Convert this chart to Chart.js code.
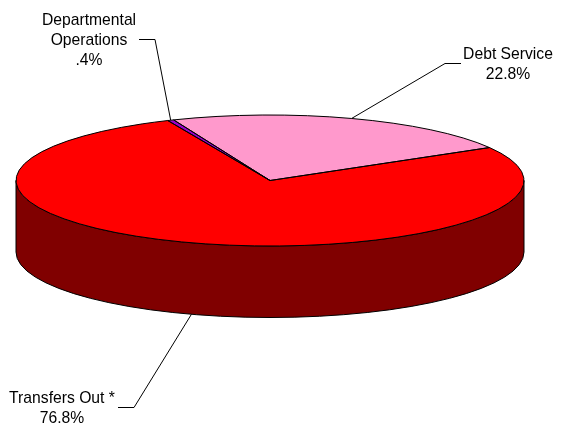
<!DOCTYPE html>
<html lang="en">

<head>
    <meta charset="UTF-8">
    <script src="https://cdn.jsdelivr.net/npm/chart.js"></script>
    <title>Pie</title>
    <style>
        body { margin: 0; background: #fff; }
    </style>
</head>

<body>
    <canvas id="myChart" width="561" height="430"></canvas>

    <script>
        const categorias = ['Debt Service', 'Transfers Out *', 'Departmental Operations']
        const valores = [22.8, 76.8, 0.4]
        const textos = [['Debt Service', '22.8%'], ['Transfers Out *', '76.8%'], ['Departmental', 'Operations', '.4%']]
        const cores = ['#ff99cc', '#ff0000', '#9900cc']

        // where the flat pie goes on the page
        const centroX = 270, centroY = 180.5, raioX = 254, raioY = 65.5, altura = 71.5

        // leader line: elbow and end, then label centre and baselines
        const linhas = [
            { cotovelo: [445, 63.5], fim: [461, 63.5], textoX: 508, textoY: [59, 79] },
            { cotovelo: [134, 407.5], fim: [118, 407.5], textoX: 62, textoY: [403, 423] },
            { cotovelo: [155, 39.5], fim: [139, 39.5], textoX: 89, textoY: [25, 45, 65] }
        ]

        const pizza3d = {
            id: 'pizza3d',
            beforeDatasetsDraw(chart) {
                const ctx = chart.ctx
                const arcos = chart.getDatasetMeta(0).data

                // side wall, only the front half shows
                ctx.save()
                ctx.fillStyle = '#800000'
                ctx.strokeStyle = '#000'
                ctx.lineWidth = 1
                arcos.forEach(arco => {
                    [0, Math.PI * 2].forEach(volta => {
                        const a = Math.max(arco.startAngle, volta)
                        const b = Math.min(arco.endAngle, volta + Math.PI)
                        if (b <= a) return
                        ctx.beginPath()
                        ctx.ellipse(centroX, centroY, raioX, raioY, 0, a, b)
                        ctx.ellipse(centroX, centroY + altura, raioX, raioY, 0, b, a, true)
                        ctx.closePath()
                        ctx.fill()
                        ctx.stroke()
                    })
                })
                ctx.restore()

                // squash the library's own arcs
                const arco = arcos[0]
                ctx.save()
                ctx.translate(centroX, centroY)
                ctx.scale(raioX / arco.outerRadius, raioY / arco.outerRadius)
                ctx.translate(-arco.x, -arco.y)
            },
            afterDatasetsDraw(chart) {
                const ctx = chart.ctx
                const arcos = chart.getDatasetMeta(0).data
                ctx.restore()

                ctx.save()
                ctx.strokeStyle = '#000'
                ctx.lineWidth = 1
                arcos.forEach(arco => {
                    ctx.beginPath()
                    ctx.moveTo(centroX, centroY)
                    ctx.ellipse(centroX, centroY, raioX, raioY, 0, arco.startAngle, arco.endAngle)
                    ctx.closePath()
                    ctx.stroke()
                })

                ctx.fillStyle = '#000'
                ctx.font = '15.7px "Liberation Sans"'
                ctx.textAlign = 'center'
                arcos.forEach((arco, i) => {
                    const meio = (arco.startAngle + arco.endAngle) / 2
                    const x = centroX + raioX * Math.cos(meio)
                    let y = centroY + raioY * Math.sin(meio)
                    if (Math.sin(meio) > 0) y += altura

                    ctx.beginPath()
                    ctx.moveTo(x, y)
                    ctx.lineTo(linhas[i].cotovelo[0], linhas[i].cotovelo[1])
                    ctx.lineTo(linhas[i].fim[0], linhas[i].fim[1])
                    ctx.stroke()

                    textos[i].forEach((t, j) => ctx.fillText(t, linhas[i].textoX, linhas[i].textoY[j]))
                })
                ctx.restore()
            }
        }

        new Chart(document.getElementById('myChart'), {
            type: 'pie',
            data: {
                labels: categorias,
                datasets: [{
                    data: valores,
                    backgroundColor: cores,
                    borderWidth: 0
                }]
            },
            options: {
                responsive: false,
                animation: false,
                rotation: -22.3,
                plugins: {
                    legend: { display: false },
                    tooltip: { enabled: false }
                }
            },
            plugins: [pizza3d]
        })
    </script>
</body>

</html>
